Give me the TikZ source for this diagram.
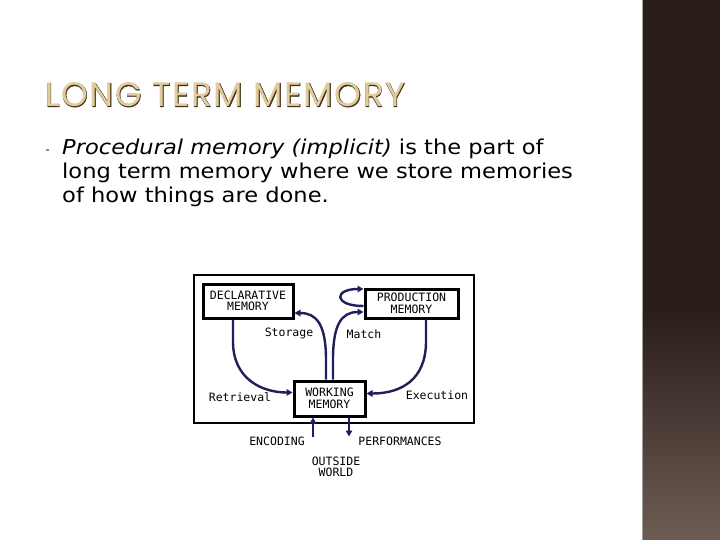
\documentclass[tikz,border=0pt]{standalone}
\usepackage{fontspec}
\setmainfont{DejaVu Sans}
\newfontfamily\titlefont[LetterSpace=4.8]{Poppins}
\newfontfamily\titleedge[LetterSpace=4.8, FakeBold=1.3]{Poppins}
\newfontfamily\bodyfont[FakeStretch=1.1]{DejaVu Sans}
\newfontfamily\chartfont{DejaVu Sans Mono}
\usetikzlibrary{arrows.meta, positioning}
\definecolor{barbrown}{HTML}{2A1E19}
\definecolor{barlight}{HTML}{6C5C54}
\definecolor{titlefill}{HTML}{E2CB9E}
\definecolor{titleline}{HTML}{3E2E14}
\definecolor{flownavy}{HTML}{1F1F5C}
\definecolor{bulletgrey}{HTML}{8C8C8C}

\begin{document}
\begin{tikzpicture}[
		x=1pt, y=-1pt,
		every node/.style={font=\chartfont\fontsize{11.5}{11}\selectfont},
		membox/.style={
			rectangle,
			draw=black,
			line width=3pt,
			inner sep=0pt,
			text centered,
			align=center,
			font=\chartfont\fontsize{11.5}{11.5}\selectfont
		},
		lbl/.style={inner sep=0pt},
		flow/.style={draw=flownavy, line width=2.4pt, -{Triangle[length=6pt,width=6.5pt]}}
		]
		\useasboundingbox (0,0) rectangle (720,540);
		
		% Side bar
		\fill[barbrown] (642,0) rectangle (720,310);
		\shade[top color=barbrown, bottom color=barlight] (642,310) rectangle (720,540);
		\draw[barlight!60!white, line width=1pt] (642.5,0) -- (642.5,540);
		
		% Title and text
		\node (title) [anchor=base west, inner sep=0pt, font=\titlefont\fontsize{34}{34}\selectfont] at (45,107)
		{\rlap{\color{titleline}\titleedge LONG TERM MEMORY}\textcolor{titlefill}{LONG TERM MEMORY}};
		\node (bullet) [fill=bulletgrey, minimum size=2.5pt, inner sep=0pt] at (47.5,150) {};
		\node (body) [anchor=north west, align=left, inner sep=0pt, font=\bodyfont\fontsize{20.5}{24}\selectfont] at (62,139)
		{\textit{Procedural memory (implicit)} is the part of\\long term memory where we store memories\\of how things are done.};
		
		% Nodes
		\node (frame) [draw=black, line width=2pt, minimum width=280pt, minimum height=148pt, inner sep=0pt] at (334,349) {};
		\node (decl) [membox, minimum width=90pt, minimum height=34pt] at (248,301) {DECLARATIVE\\MEMORY};
		\node (prod) [membox, minimum width=93pt, minimum height=29pt] at (411.5,303.5) {PRODUCTION\\MEMORY};
		\node (wm) [membox, minimum width=71pt, minimum height=35pt] at (329.5,398.5) {WORKING\\MEMORY};
		
		\node (storage) [lbl] at (289,333) {Storage};
		\node (match) [lbl] at (364,334) {Match};
		\node (retrieval) [lbl] at (240,397) {Retrieval};
		\node (execution) [lbl] at (437,395) {Execution};
		\node (encoding) [lbl] at (277,441) {ENCODING};
		\node (perform) [lbl] at (400,441) {PERFORMANCES};
		\node (outside) [lbl, align=center] at (336,467) {OUTSIDE\\WORLD};
		
		% Arrows
		\draw [flow] ([xshift=-15pt]decl.south) -- ++(0,22) .. controls +(0,38) and +(-30,0) .. ([yshift=6pt]wm.west);
		\draw [flow] ([xshift=-3.5pt]wm.north) -- ++(0,-20) .. controls +(0,-35) and +(22,0) .. ([yshift=-12pt]decl.east);
		\draw [flow] ([xshift=3.5pt]wm.north) -- ++(0,-20) .. controls +(0,-35) and +(-22,0) .. ([yshift=-8.5pt]prod.west);
		\draw [flow] ([yshift=-2.5pt]prod.west) .. controls +(-30,0) and +(-30,0) .. ([yshift=14.5pt]prod.west);
		\draw [flow] ([xshift=14.5pt]prod.south) -- ++(0,22) .. controls +(0,38) and +(35,0) .. ([yshift=5pt]wm.east);
		\draw [flow] ([xshift=-16.5pt,yshift=-19pt]wm.south) -- ([xshift=-16.5pt]wm.south);
		\draw [flow] ([xshift=19.5pt]wm.south) -- ([xshift=19.5pt,yshift=-19pt]wm.south);
		
	\end{tikzpicture}
\end{document}
